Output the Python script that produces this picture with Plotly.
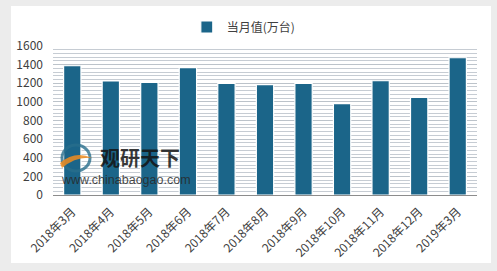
import plotly.graph_objects as go

categories = ["2018年3月", "2018年4月", "2018年5月", "2018年6月", "2018年7月", "2018年8月",
              "2018年9月", "2018年10月", "2018年11月", "2018年12月", "2019年3月"]
values = [1388, 1224, 1210, 1368, 1199, 1186, 1199, 982, 1227, 1049, 1474]
series_name = "当月值(万台)"
y_ticks = [0, 200, 400, 600, 800, 1000, 1200, 1400, 1600]

W, H = 497, 271
ml, mr, mt, mb = 53, 20, 46, 76
PW, PH = W - ml - mr, H - mt - mb


def px_x(x):
    return (x - ml) / PW


def px_y(y):
    return (H - mb - y) / PH


fig = go.Figure()
fig.add_trace(go.Bar(
    x=categories, y=values, name=series_name,
    marker=dict(color="#1b6589", line=dict(color="#ffffff", width=1.2)),
    width=0.45, showlegend=True,
))

font_main = "Noto Sans CJK SC, Liberation Sans, sans-serif"

fig.update_layout(
    width=W, height=H,
    margin=dict(l=ml, r=mr, t=mt, b=mb, pad=0),
    paper_bgcolor="#ececec",
    plot_bgcolor="#dfe4e8",
    font=dict(family=font_main, size=11, color="#404040"),
    showlegend=True,
    legend=dict(
        orientation="h", x=0.45, xanchor="center", y=1.225, yanchor="top",
        bgcolor="#ffffff", borderwidth=0, font=dict(size=12, color="#404040"),
        itemwidth=30,
    ),
    xaxis=dict(
        type="category", tickangle=-45, showgrid=False, zeroline=False,
        showline=True, linecolor="#8c8c8c", linewidth=1, ticks="",
        tickfont=dict(size=12, color="#404040"), range=[-0.5, 10.5],
        ticklabelstandoff=4,
    ),
    yaxis=dict(
        range=[0, 1600], tickvals=y_ticks, showgrid=True, gridcolor="#bcc3ca", gridwidth=1,
        minor=dict(dtick=40, showgrid=True, gridcolor="#c6ccd3", gridwidth=1),
        zeroline=False, showline=False, ticks="",
        tickfont=dict(size=12, color="#404040"), ticklabelstandoff=9,
    ),
    shapes=[
        dict(type="rect", xref="paper", yref="paper",
             x0=px_x(11), x1=px_x(491), y0=px_y(263), y1=px_y(6),
             fillcolor="#ffffff", line=dict(width=0), layer="below"),
        dict(type="circle", xref="paper", yref="paper",
             x0=px_x(62), x1=px_x(90), y0=px_y(171), y1=px_y(145),
             fillcolor="rgba(0,0,0,0)", line=dict(color="rgba(40,110,140,0.8)", width=3)),
        dict(type="path", xref="paper", yref="paper",
             path=f"M {px_x(60)},{px_y(163)} Q {px_x(75)},{px_y(150)} {px_x(92)},{px_y(158)} "
                  f"Q {px_x(76)},{px_y(156)} {px_x(62)},{px_y(168)} Z",
             fillcolor="rgba(240,140,30,0.85)", line=dict(width=0)),
    ],
    annotations=[
        dict(text="<b>观研天下</b>", xref="paper", yref="paper",
             x=px_x(98), y=px_y(157),
             xanchor="left", yanchor="middle", showarrow=False,
             font=dict(size=20, color="rgba(20,20,20,0.85)", family=font_main)),
        dict(text="www.chinabaogao.com", xref="paper", yref="paper",
             x=px_x(59), y=px_y(180),
             xanchor="left", yanchor="middle", showarrow=False,
             font=dict(size=12.5, color="rgba(40,40,40,0.85)", family="Liberation Sans, sans-serif")),
    ],
)

fig.write_html("out.html")
